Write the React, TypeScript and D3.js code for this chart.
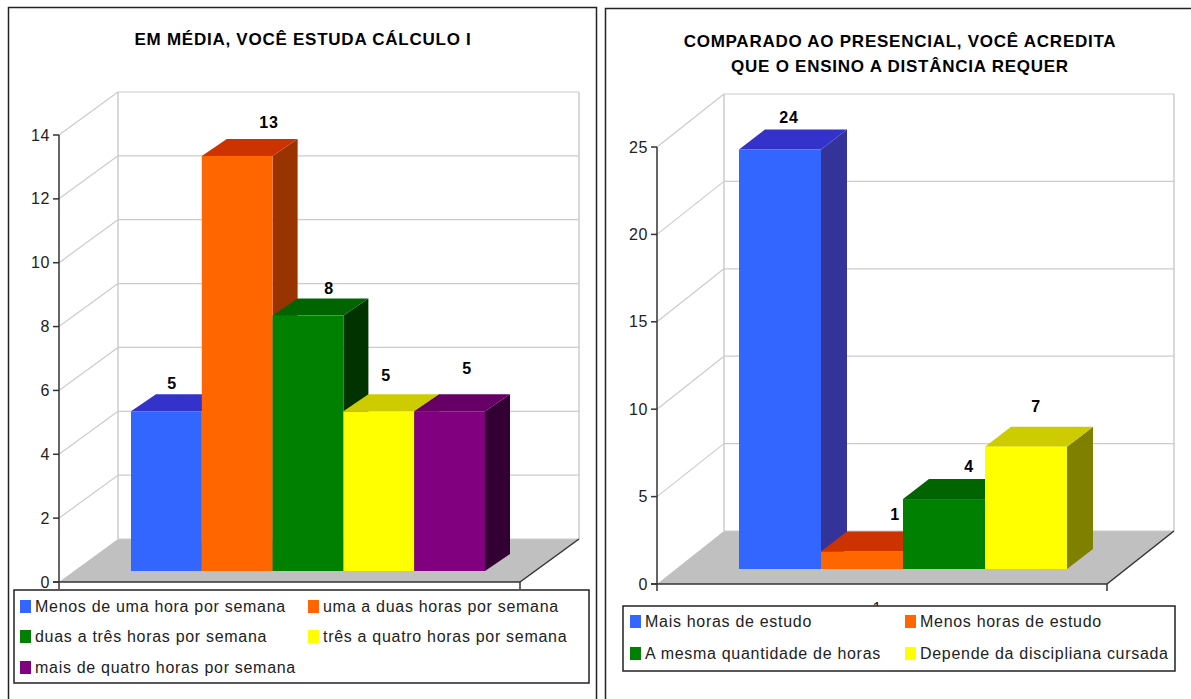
import React from "react";
import * as d3 from "d3";

// Study-hours survey
const hoursTitle = ["EM MÉDIA, VOCÊ ESTUDA CÁLCULO I"];
const hoursCategories = [
  "Menos de uma hora por semana",
  "uma a duas horas por semana",
  "duas a três horas por semana",
  "três a quatro horas por semana",
  "mais de quatro horas por semana",
];
const hoursValues = [5, 13, 8, 5, 5];
const hoursTicks = [0, 2, 4, 6, 8, 10, 12, 14];
const hoursColors = ["#3366ff", "#ff6600", "#008000", "#ffff00", "#800080"];
const hoursTopColors = ["#3333cc", "#cc3300", "#006400", "#cccc00", "#660066"];
const hoursSideColors = ["#333399", "#993300", "#003300", "#808000", "#330033"];

// Distance-learning survey
const effortTitle = ["COMPARADO AO PRESENCIAL, VOCÊ ACREDITA", "QUE O ENSINO A DISTÂNCIA REQUER"];
const effortCategories = [
  "Mais horas de estudo",
  "Menos horas de estudo",
  "A mesma quantidade de horas",
  "Depende da discipliana cursada",
];
const effortValues = [24, 1, 4, 7];
const effortTicks = [0, 5, 10, 15, 20, 25];
const effortColors = ["#3366ff", "#ff6600", "#008000", "#ffff00"];
const effortTopColors = ["#3333cc", "#cc3300", "#006400", "#cccc00"];
const effortSideColors = ["#333399", "#993300", "#003300", "#808000"];

const FONT = "'Liberation Sans', Arial, sans-serif";

type PanelProps = {
  title: string[];
  titleX: number;
  titleY: number[];
  categories: string[];
  values: number[];
  ticks: number[];
  colors: string[];
  topColors: string[];
  sideColors: string[];
  axisX: [number, number];
  axisY: [number, number];
  depth: [number, number];
  barRange: [number, number];
  barInset: number;
  barDepth: [number, number];
  labelAt: [number, number][];
  legendBox: [number, number, number, number];
  legendCols: number[];
  legendRows: number[];
  hiddenLabel?: [string, number, number];
};

function Panel(p: PanelProps) {
  const y = d3.scaleLinear().domain([0, p.ticks[p.ticks.length - 1]]).range(p.axisY);
  const x = d3.scaleBand().domain(p.categories).range(p.barRange).padding(0);
  const [x0, x1] = p.axisX;
  const [dx, dy] = p.depth;
  const [bdx, bdy] = p.barDepth;
  const y0 = y(0);
  const top = y(p.ticks[p.ticks.length - 1]);
  const poly = d3.line();
  const path = (pts: [number, number][]) => poly(pts) + "Z";
  const [lx, ly, lw, lh] = p.legendBox;

  return (
    <g fontFamily={FONT}>
      {p.title.map((t, i) => (
        <text key={t} x={p.titleX} y={p.titleY[i]} textAnchor="middle" fontSize={17} fontWeight="bold"
          letterSpacing={0.75} fill="#000" dominantBaseline="central">{t}</text>
      ))}

      {/* floor and walls */}
      <path d={path([[x0, y0], [x0 + dx, y0 + dy], [x1 + dx, y0 + dy], [x1, y0]])} fill="#c0c0c0" />
      {p.ticks.map((t) => (
        <g key={t} stroke="#cccccc" strokeWidth={1.2} fill="none">
          {t > 0 && <line x1={x0} y1={y(t)} x2={x0 + dx} y2={y(t) + dy} />}
          <line x1={x0 + dx} y1={y(t) + dy} x2={x1 + dx} y2={y(t) + dy} />
        </g>
      ))}
      <line x1={x0 + dx} y1={top + dy} x2={x0 + dx} y2={y0 + dy} stroke="#cccccc" strokeWidth={1.5} />
      <line x1={x1 + dx} y1={top + dy} x2={x1 + dx} y2={y0 + dy} stroke="#cccccc" strokeWidth={1.5} />

      {/* axes */}
      <g stroke="#333" strokeWidth={1.5} fill="none">
        <line x1={x0} y1={top} x2={x0} y2={y0 + 7} />
        <line x1={x0 - 6} y1={y0} x2={x1} y2={y0} />
        <line x1={x1} y1={y0} x2={x1 + dx} y2={y0 + dy} />
        <line x1={x1} y1={y0} x2={x1} y2={y0 + 7} />
        {p.ticks.map((t) => <line key={t} x1={x0 - 6} y1={y(t)} x2={x0} y2={y(t)} />)}
      </g>
      {p.ticks.map((t) => (
        <text key={t} x={x0 - 9} y={y(t)} textAnchor="end" dominantBaseline="central" fontSize={16}
          letterSpacing={0.6} fill="#222">{t}</text>
      ))}
      {p.hiddenLabel && (
        <text x={p.hiddenLabel[1]} y={p.hiddenLabel[2]} textAnchor="middle" dominantBaseline="central"
          fontSize={16} fill="#222">{p.hiddenLabel[0]}</text>
      )}

      {/* bars, painted left to right so each overlaps the previous side face */}
      {p.categories.map((c, i) => {
        const bx = x(c)!;
        const w = x.bandwidth();
        const base = y0 - p.barInset;
        const ty = y(p.values[i]) - p.barInset;
        return (
          <g key={c}>
            <path d={path([[bx + w, ty], [bx + w + bdx, ty + bdy], [bx + w + bdx, base + bdy], [bx + w, base]])} fill={p.sideColors[i]} />
            <path d={path([[bx, ty], [bx + bdx, ty + bdy], [bx + w + bdx, ty + bdy], [bx + w, ty]])} fill={p.topColors[i]} />
            <rect x={bx} y={ty} width={w} height={base - ty} fill={p.colors[i]} />
          </g>
        );
      })}
      {p.categories.map((c, i) => (
        <text key={c} x={p.labelAt[i][0]} y={p.labelAt[i][1]} textAnchor="middle" dominantBaseline="central"
          fontSize={16} fontWeight="bold" letterSpacing={0.8} fill="#000">{p.values[i]}</text>
      ))}

      {/* legend */}
      <rect x={lx} y={ly} width={lw} height={lh} fill="#fff" stroke="#222" strokeWidth={1.5} />
      {p.categories.map((c, i) => {
        const col = p.legendCols[i % 2];
        const row = p.legendRows[Math.floor(i / 2)];
        return (
          <g key={c}>
            <rect x={col} y={row - 6} width={11} height={13} fill={p.colors[i]} />
            <text x={col + 15} y={row} dominantBaseline="central" fontSize={16} letterSpacing={0.7} fill="#222">{c}</text>
          </g>
        );
      })}
    </g>
  );
}

export default function App() {
  return (
    <svg width={1191} height={699} style={{ position: "absolute", left: 0, top: 0, display: "block", background: "#fff" }}>
      <path d="M8.5 699V7.5H596.5V699" fill="none" stroke="#222" strokeWidth={1.5} />
      <path d="M605.5 699V8.5H1191" fill="none" stroke="#222" strokeWidth={1.5} />
      <Panel
        title={hoursTitle} titleX={303} titleY={[39]}
        categories={hoursCategories} values={hoursValues} ticks={hoursTicks}
        colors={hoursColors} topColors={hoursTopColors} sideColors={hoursSideColors}
        axisX={[59, 520]} axisY={[582, 135]} depth={[59, -43]}
        barRange={[131, 485]} barInset={11} barDepth={[25, -17]}
        labelAt={[[172, 383], [269, 122], [329, 288], [386, 375], [467, 368]]}
        legendBox={[14, 590, 575, 93]} legendCols={[20, 308]} legendRows={[606, 636, 667]}
      />
      <Panel
        title={effortTitle} titleX={900} titleY={[41, 66]}
        categories={effortCategories} values={effortValues} ticks={effortTicks}
        colors={effortColors} topColors={effortTopColors} sideColors={effortSideColors}
        axisX={[657, 1107]} axisY={[584, 147]} depth={[67, -53]}
        barRange={[739, 1067]} barInset={15} barDepth={[26, -20]}
        labelAt={[[789, 117], [895, 514], [969, 466], [1036, 406]]}
        legendBox={[623, 606, 552, 65]} legendCols={[630, 905]} legendRows={[621, 653]}
        hiddenLabel={["1", 877, 608]}
      />
    </svg>
  );
}
